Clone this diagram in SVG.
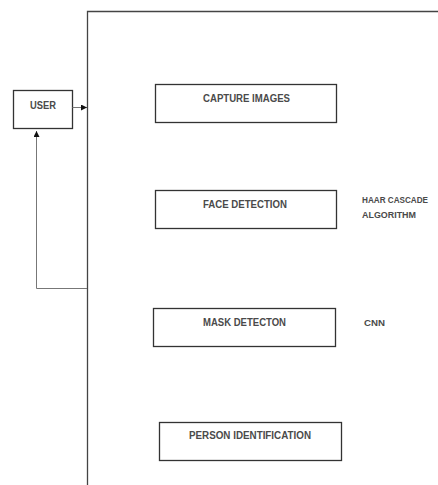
<svg xmlns="http://www.w3.org/2000/svg" width="438" height="485" viewBox="0 0 438 485">
<defs>
<style>
.box{fill:#fff;stroke:#333;stroke-width:1.3}
.lbl{font-family:"Liberation Sans",Arial,sans-serif;font-size:10px;font-weight:bold;fill:#4a4a4a;text-anchor:middle}
.side{font-family:"Liberation Sans",Arial,sans-serif;font-size:9px;font-weight:bold;fill:#4a4a4a}
.frame{fill:none;stroke:#444;stroke-width:1.3}
.conn{fill:none;stroke:#777;stroke-width:1}
</style>
<marker id="ah" viewBox="0 0 10 10" refX="10" refY="5" markerWidth="6" markerHeight="6" orient="auto" markerUnits="userSpaceOnUse">
<path d="M0,0 L10,5 L0,10 z" fill="#111"/>
</marker>
</defs>
<rect width="438" height="485" fill="#fff"/>
<g id="system">
<path class="frame" d="M87.5,485 V11.5 H438"/>
</g>
<g id="user">
<rect class="box" x="13.5" y="90.5" width="59" height="38"/>
<text class="lbl" x="43" y="108.5" textLength="26" lengthAdjust="spacingAndGlyphs">USER</text>
</g>
<g id="capture">
<rect class="box" x="155.5" y="84.5" width="181" height="38"/>
<text class="lbl" x="246.5" y="101.5" textLength="87" lengthAdjust="spacingAndGlyphs">CAPTURE IMAGES</text>
</g>
<g id="face">
<rect class="box" x="155.5" y="190.5" width="181" height="38"/>
<text class="lbl" x="245" y="207.5" textLength="84" lengthAdjust="spacingAndGlyphs">FACE DETECTION</text>
</g>
<g id="haar">
<text class="side" x="362" y="203" textLength="66" lengthAdjust="spacingAndGlyphs">HAAR CASCADE</text>
<text class="side" x="362" y="217.5" textLength="54" lengthAdjust="spacingAndGlyphs">ALGORITHM</text>
</g>
<g id="mask">
<rect class="box" x="153.5" y="308.5" width="182" height="38"/>
<text class="lbl" x="244.5" y="325.5" textLength="83" lengthAdjust="spacingAndGlyphs">MASK DETECTON</text>
</g>
<g id="cnn">
<text class="side" x="364" y="326" textLength="21" lengthAdjust="spacingAndGlyphs">CNN</text>
</g>
<g id="person">
<rect class="box" x="159.5" y="422.5" width="182" height="38"/>
<text class="lbl" x="250" y="439" textLength="122" lengthAdjust="spacingAndGlyphs">PERSON IDENTIFICATION</text>
</g>
<g id="connectors">
<path class="conn" d="M72.5,107.5 H87" marker-end="url(#ah)"/>
<path class="conn" d="M87,288.5 H36.5 V131" marker-end="url(#ah)"/>
</g>
</svg>
